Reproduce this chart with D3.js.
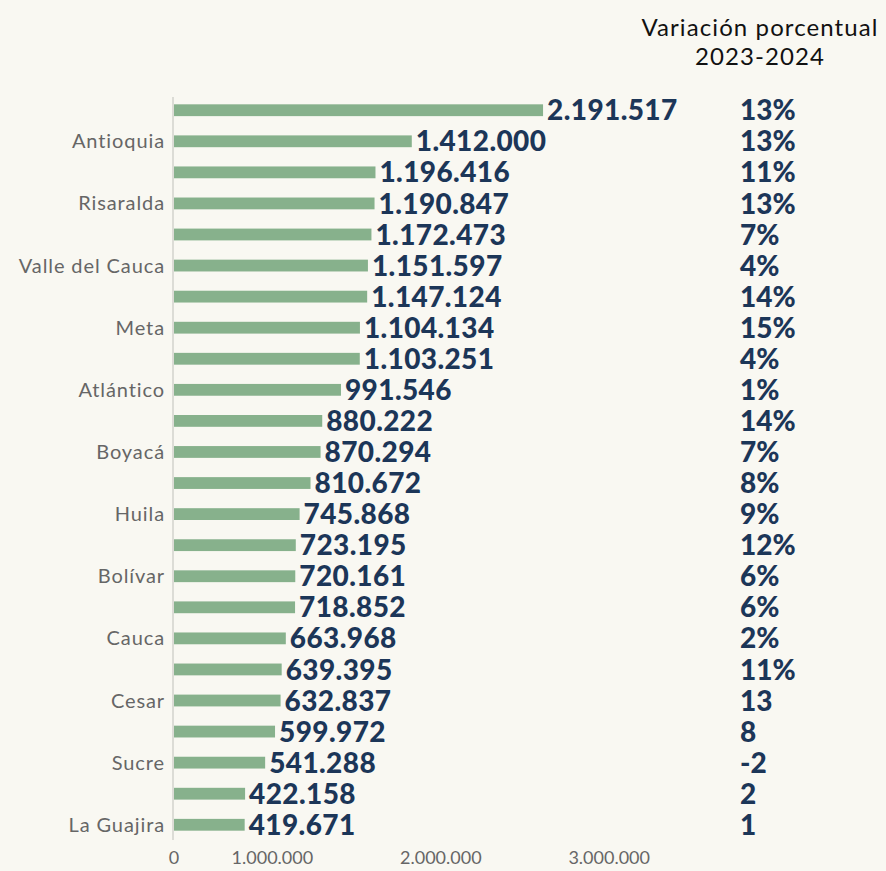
<!DOCTYPE html>
<html><head><meta charset="utf-8">
<script src="https://cdn.jsdelivr.net/npm/d3@7"></script>
<style>
html,body{margin:0;padding:0;background:#f9f8f2;}
svg{display:block;}
</style></head>
<body>
<svg id="chart" width="886" height="871"></svg>
<script>
// Categories (only every other label is displayed in the original)
const categories = ["", "Antioquia", "", "Risaralda", "", "Valle del Cauca", "", "Meta", "", "Atlántico", "", "Boyacá", "", "Huila", "", "Bolívar", "", "Cauca", "", "Cesar", "", "Sucre", "", "La Guajira"];
const values = [2191517, 1412000, 1196416, 1190847, 1172473, 1151597, 1147124, 1104134, 1103251, 991546, 880222, 870294, 810672, 745868, 723195, 720161, 718852, 663968, 639395, 632837, 599972, 541288, 422158, 419671];
const variation = ["13%", "13%", "11%", "13%", "7%", "4%", "14%", "15%", "4%", "1%", "14%", "7%", "8%", "9%", "12%", "6%", "6%", "2%", "11%", "13", "8", "-2", "2", "1"];
const xTicks = [0, 1000000, 2000000, 3000000];
const title = ["Variación porcentual", "2023-2024"];

const svg = d3.select("#chart");
const x0 = 174, pxPerMillion = 168.4;
const x = d3.scaleLinear().domain([0, 1000000]).range([x0, x0 + pxPerMillion]);
const idx = d3.range(categories.length);
const y = d3.scaleBand().domain(idx).range([95, 840]).paddingInner(0.62).paddingOuter(0.3);

const fmt = v => d3.format(",")(v).replace(/,/g, ".");

// axis line
svg.append("line").attr("x1", 173).attr("x2", 173).attr("y1", 97).attr("y2", 840)
  .attr("stroke", "#dcdcd6").attr("stroke-width", 2);

// bars
svg.selectAll("rect.bar").data(idx).enter().append("rect")
  .attr("class", "bar")
  .attr("x", x(0))
  .attr("y", i => y(i))
  .attr("width", i => x(values[i]) - x(0))
  .attr("height", y.bandwidth())
  .attr("fill", "#87b18c");

// category labels
svg.selectAll("text.cat").data(idx).enter().append("text")
  .attr("class", "cat")
  .attr("x", 165)
  .attr("y", i => y(i) + y.bandwidth() / 2)
  .attr("dy", "0.35em")
  .attr("text-anchor", "end")
  .attr("font-family", "Lato, sans-serif")
  .attr("font-size", 20)
  .attr("letter-spacing", 0.9)
  .attr("fill", "#666666")
  .text(i => categories[i]);

// value labels
svg.selectAll("text.val").data(idx).enter().append("text")
  .attr("class", "val")
  .attr("x", i => x(values[i]) + 4)
  .attr("y", i => y(i) + y.bandwidth() / 2)
  .attr("dy", "0.36em")
  .attr("font-family", "Lato, sans-serif")
  .attr("font-weight", 900)
  .attr("font-size", 28)
  .attr("letter-spacing", 0.4)
  .attr("fill", "#1c3658")
  .text(i => fmt(values[i]));

// variation labels
svg.selectAll("text.var").data(idx).enter().append("text")
  .attr("class", "var")
  .attr("x", 740)
  .attr("y", i => y(i) + y.bandwidth() / 2)
  .attr("dy", "0.36em")
  .attr("font-family", "Lato, sans-serif")
  .attr("font-weight", 900)
  .attr("font-size", 28)
  .attr("fill", "#1c3658")
  .text(i => variation[i]);

// x tick labels
svg.selectAll("text.tick").data(xTicks).enter().append("text")
  .attr("class", "tick")
  .attr("x", d => d === 0 ? x(0) : x(d) - 70)
  .attr("y", 864)
  .attr("text-anchor", "middle")
  .attr("font-family", "Lato, sans-serif")
  .attr("font-size", 18)
  .attr("fill", "#666666")
  .text(d => fmt(d));

// title
svg.selectAll("text.title").data(title).enter().append("text")
  .attr("class", "title")
  .attr("x", 760)
  .attr("y", (d, i) => 36 + i * 29)
  .attr("text-anchor", "middle")
  .attr("font-family", "Lato, sans-serif")
  .attr("font-size", 24)
  .attr("letter-spacing", 1.1)
  .attr("fill", "#111111")
  .text(d => d);
</script>
</body></html>
